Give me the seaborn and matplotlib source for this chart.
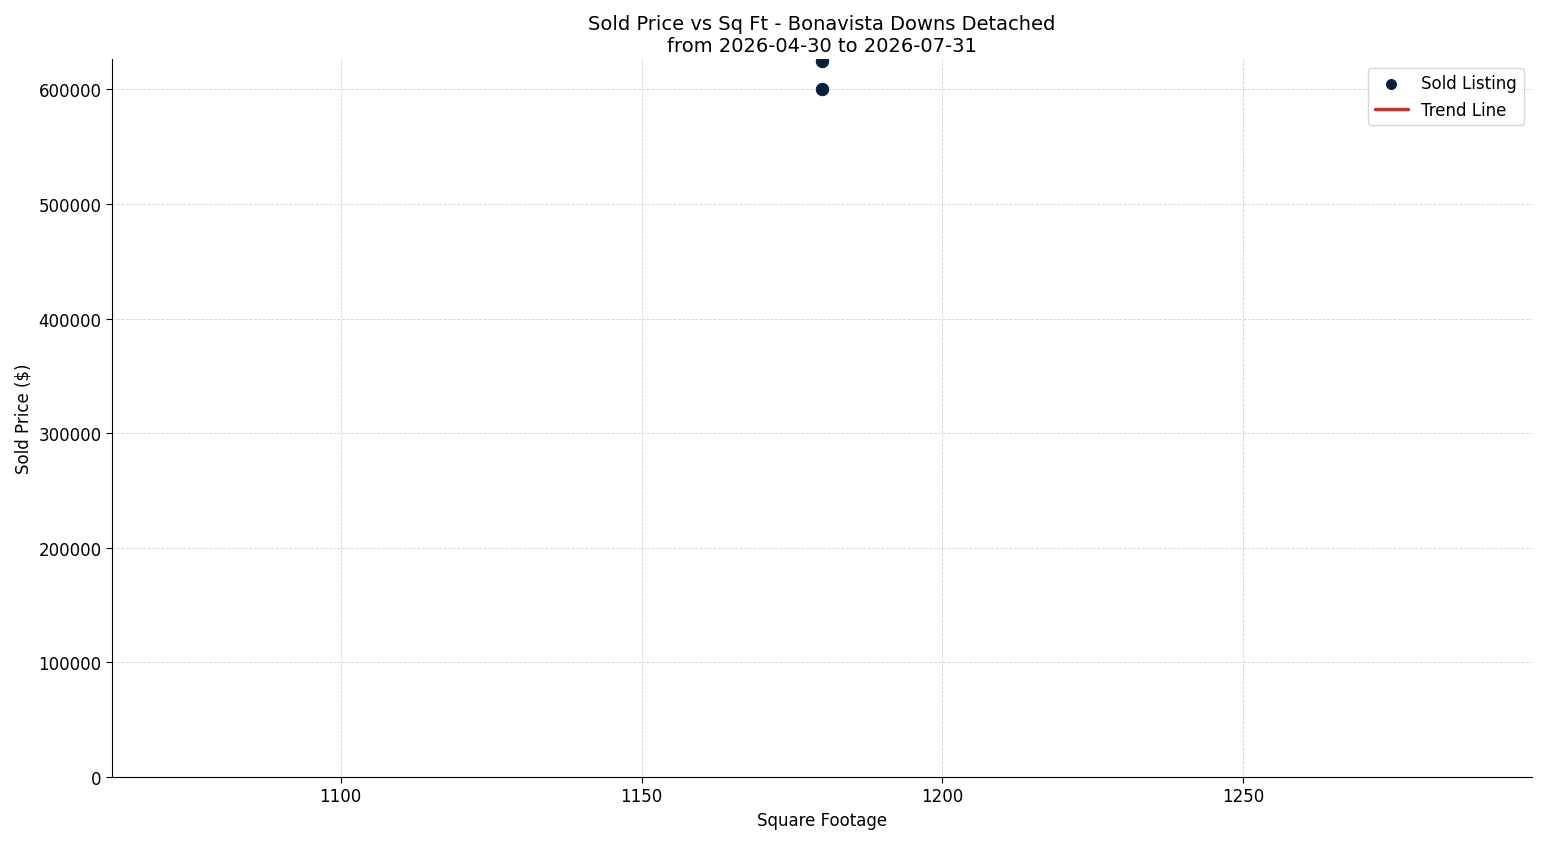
import numpy as np
import pandas as pd
import matplotlib
matplotlib.use("Agg")
import matplotlib.pyplot as plt
import seaborn as sns

# data
sqft = [1180, 1180]
sold_price = [625000, 600000]
title = "Sold Price vs Sq Ft - Bonavista Downs Detached\nfrom 2026-04-30 to 2026-07-31"

df = pd.DataFrame({"sqft": sqft, "price": sold_price})

sns.set_style("white")
plt.rcParams["font.family"] = ["DejaVu Sans"]
for k in ["text.color", "axes.labelcolor", "xtick.color", "ytick.color", "axes.edgecolor"]:
    plt.rcParams[k] = "black"

fig, ax = plt.subplots(figsize=(15.47, 8.45), dpi=100)
sns.scatterplot(data=df, x="sqft", y="price", ax=ax, s=80, color="#0b1f3a",
                edgecolor="#0b1f3a", label="Sold Listing", zorder=3)

# trend line only when there is more than one distinct sq ft value
if df["sqft"].nunique() > 1:
    m, b = np.polyfit(df["sqft"], df["price"], 1)
    xs = np.linspace(df["sqft"].min(), df["sqft"].max(), 100)
    ax.plot(xs, m * xs + b, color="#c0392b", linewidth=2.5, label="Trend Line")
else:
    ax.plot([], [], color="#c0392b", linewidth=2.5, label="Trend Line")
    x0 = df["sqft"].iloc[0]
    ax.set_xlim(x0 * 0.9, x0 * 1.1)
    ax.set_xticks([1100, 1150, 1200, 1250])

ax.set_ylim(0, df["price"].max() + 0.05 * (df["price"].max() - df["price"].min()))
ax.set_title(title, fontsize=14)
ax.set_xlabel("Square Footage", fontsize=12)
ax.set_ylabel("Sold Price ($)", fontsize=12)
ax.tick_params(labelsize=12, length=4, left=True, bottom=True)
ax.grid(True, linestyle="--", linewidth=0.6, color="#d3d3d3")
sns.despine(ax=ax)
ax.legend(loc="upper right", fontsize=12, frameon=True, markerscale=0.8)

plt.tight_layout()
plt.savefig("out.png", dpi=100)
